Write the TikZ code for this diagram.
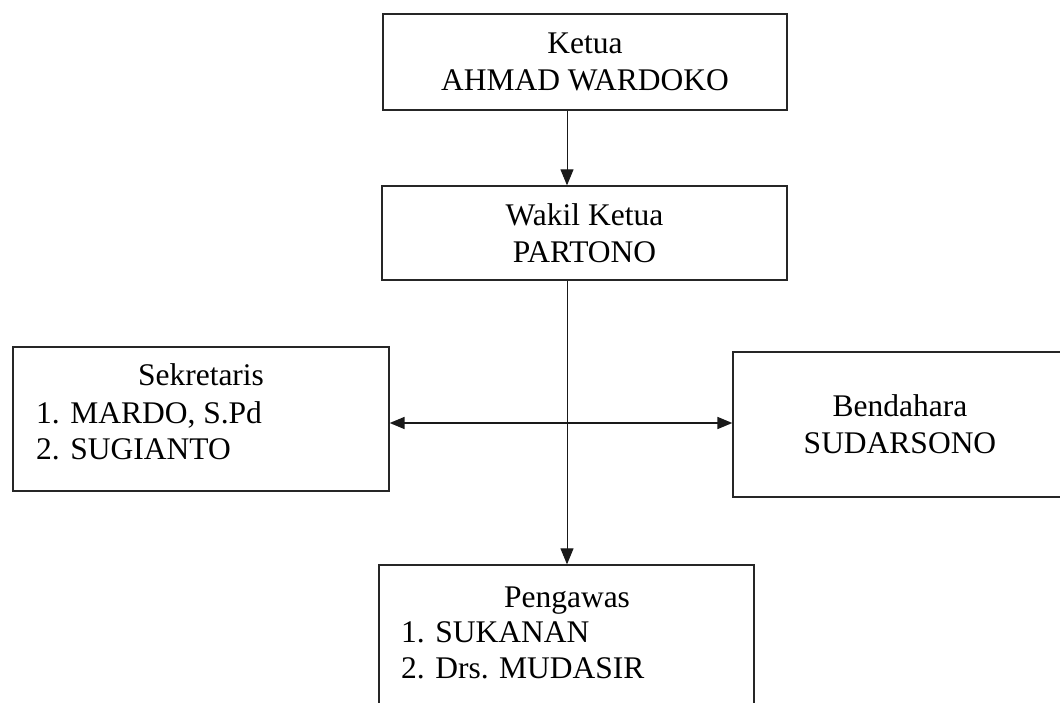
\documentclass[tikz,border=0pt]{standalone}
\usepackage{fontspec}
\setmainfont{Liberation Serif}
\usetikzlibrary{arrows.meta,positioning}
\newcommand{\orgfont}{\fontsize{31.5}{37}\selectfont}
\tikzset{
  orgbox/.style={
    draw=black!85,
    line width=1.3pt,
    inner sep=0pt,
    align=center,
    font=\orgfont
  },
  orgtext/.style={
    inner sep=0pt,
    font=\orgfont
  },
  arrow/.style={
    -{Triangle[length=16pt,width=13pt]},
    line width=1pt,
    draw=black!90
  },
  twoway/.style={
    {Triangle[length=15pt,width=12pt]}-{Triangle[length=15pt,width=12pt]},
    line width=1.7pt,
    draw=black!90
  }
}
\begin{document}
\begin{tikzpicture}[x=1pt,y=-1pt]
\useasboundingbox (0,0) rectangle (1060,703);
\clip (0,0) rectangle (1060,703);

% boxes
\node[orgbox, minimum width=404pt, minimum height=96pt] (ketua) at (585,62)
{Ketua\\AHMAD WARDOKO};
\node[orgbox, minimum width=405pt, minimum height=94pt] (wakil) at (584.5,233)
{Wakil Ketua\\PARTONO};
\node[orgbox, minimum width=376pt, minimum height=144pt] (sekretaris) at (201,419) {};
\node[orgbox, minimum width=334pt, minimum height=145pt] (bendahara) at (900,424.5)
{Bendahara\\SUDARSONO};
\node[orgbox, minimum width=375pt, minimum height=170pt] (pengawas) at (566.5,650) {};

% lists inside the boxes
\node[orgtext, anchor=base] (sekretaristitle) at (201,385) {Sekretaris};
\node[orgtext, anchor=base west] (sekretarisone) at (36,423) {1. MARDO, S.Pd};
\node[orgtext, anchor=base west] (sekretaristwo) at (36,459) {2. SUGIANTO};

\node[orgtext, anchor=base] (pengawastitle) at (567,607) {Pengawas};
\node[orgtext, anchor=base west] (pengawasone) at (401,642) {1. SUKANAN};
\node[orgtext, anchor=base west] (pengawastwo) at (401,678) {2. Drs. MUDASIR};

% connectors
\coordinate (spine) at (567,0);
\coordinate (crossbar) at (0,423);
\draw[arrow] (ketua.south -| spine) -- (wakil.north -| spine);
\draw[arrow] (wakil.south -| spine) -- (pengawas.north -| spine);
\draw[twoway] (sekretaris.east |- crossbar) -- (bendahara.west |- crossbar);

\end{tikzpicture}
\end{document}
